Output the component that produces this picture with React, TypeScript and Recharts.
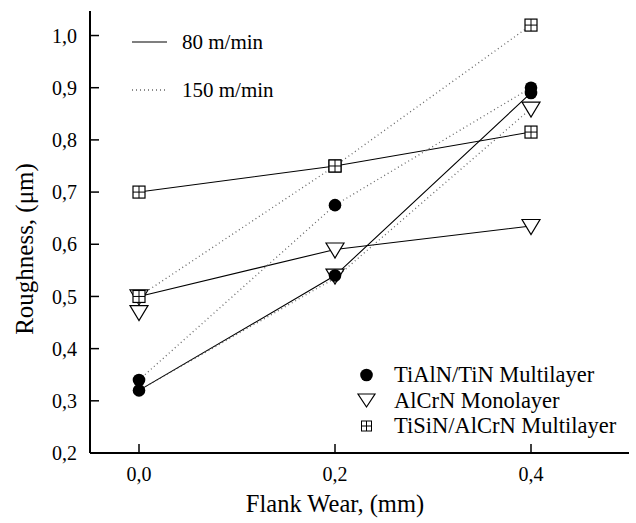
import React from 'react';
import { ComposedChart, Line, Scatter, XAxis, YAxis } from 'recharts';

// Flank wear (mm)
const flankWear = [0, 0.2, 0.4];
// Roughness (µm) markers
const tialn80 = [0.32, 0.54, 0.89];
const tialn150 = [0.34, 0.675, 0.9];
const alcrn80 = [0.5, 0.59, 0.635];
const alcrn150 = [0.47, 0.54, 0.86];
const tisin80 = [0.7, 0.75, 0.815];
const tisin150 = [0.5, 0.75, 1.02];
// dotted trend line drawn for AlCrN at 150 m/min
const alcrn150Line = [0.32, 0.535, 0.86];

const xTicks = [0, 0.2, 0.4];
const yTicks = [0.2, 0.3, 0.4, 0.5, 0.6, 0.7, 0.8, 0.9, 1.0];

const rows = flankWear.map((x, i) => ({
  x,
  tialn80: tialn80[i],
  tialn150: tialn150[i],
  alcrn80: alcrn80[i],
  alcrn150: alcrn150[i],
  tisin80: tisin80[i],
  tisin150: tisin150[i],
  alcrn150Line: alcrn150Line[i],
}));

const FONT = "'Liberation Serif', 'Times New Roman', serif";
const fmt = (v: number) => v.toFixed(1).replace('.', ',');

const DotShape = (p: any) => <circle cx={p.cx} cy={p.cy} r={6.3} fill="#000" />;
const TriShape = (p: any) => (
  <polygon
    points={`${p.cx - 9},${p.cy - 6.5} ${p.cx + 9},${p.cy - 6.5} ${p.cx},${p.cy + 8.5}`}
    fill="#fff"
    stroke="#000"
    strokeWidth={1.2}
  />
);
const BoxShape = (p: any) => (
  <g>
    <rect x={p.cx - 6} y={p.cy - 6} width={12} height={12} fill="#fff" stroke="#000" strokeWidth={1.2} />
    <line x1={p.cx} y1={p.cy - 6} x2={p.cx} y2={p.cy + 6} stroke="#000" strokeWidth={1} />
    <line x1={p.cx - 6} y1={p.cy} x2={p.cx + 6} y2={p.cy} stroke="#000" strokeWidth={1} />
  </g>
);

const solid = { stroke: '#000', strokeWidth: 1.1 };
const dotted = { stroke: '#666', strokeWidth: 1.3, strokeDasharray: '1 3' };

export default function App() {
  return (
    <div style={{ position: 'absolute', left: 0, top: 0, width: 636, height: 523, background: '#fff' }}>
      <ComposedChart width={636} height={523} data={rows} margin={{ top: 11, right: 7, bottom: 0, left: 0 }}>
        <XAxis
          dataKey="x"
          type="number"
          domain={[-0.05, 0.5]}
          ticks={xTicks}
          tickFormatter={fmt}
          height={70}
          tickSize={-9}
          tickMargin={23}
          axisLine={{ stroke: '#000', strokeWidth: 2 }}
          tickLine={{ stroke: '#000', strokeWidth: 1.5 }}
          tick={{ fontFamily: FONT, fontSize: 20, fill: '#000' }}
          allowDataOverflow
        />
        <XAxis
          xAxisId="top"
          orientation="top"
          type="number"
          domain={[-0.05, 0.5]}
          height={0}
          tick={false}
          tickLine={false}
          axisLine={{ stroke: '#000', strokeWidth: 2 }}
        />
        <YAxis
          type="number"
          domain={[0.2, 1.047]}
          ticks={yTicks}
          tickFormatter={fmt}
          width={90}
          tickSize={-9}
          tickMargin={22}
          axisLine={{ stroke: '#000', strokeWidth: 2 }}
          tickLine={{ stroke: '#000', strokeWidth: 1.5 }}
          tick={{ fontFamily: FONT, fontSize: 20, fill: '#000' }}
          allowDataOverflow
        />
        <YAxis
          yAxisId="right"
          orientation="right"
          type="number"
          domain={[0.2, 1.047]}
          width={0}
          tick={false}
          tickLine={false}
          axisLine={{ stroke: '#444', strokeWidth: 1.5 }}
        />
        <Line dataKey="tisin80" {...solid} dot={false} isAnimationActive={false} />
        <Line dataKey="alcrn80" {...solid} dot={false} isAnimationActive={false} />
        <Line dataKey="tialn80" {...solid} dot={false} isAnimationActive={false} />
        <Line dataKey="tisin150" {...dotted} dot={false} isAnimationActive={false} />
        <Line dataKey="tialn150" {...dotted} dot={false} isAnimationActive={false} />
        <Line dataKey="alcrn150Line" {...dotted} dot={false} isAnimationActive={false} />
        <Scatter dataKey="alcrn80" shape={TriShape} isAnimationActive={false} />
        <Scatter dataKey="alcrn150" shape={TriShape} isAnimationActive={false} />
        <Scatter dataKey="tisin80" shape={BoxShape} isAnimationActive={false} />
        <Scatter dataKey="tisin150" shape={BoxShape} isAnimationActive={false} />
        <Scatter dataKey="tialn80" shape={DotShape} isAnimationActive={false} />
        <Scatter dataKey="tialn150" shape={DotShape} isAnimationActive={false} />
      </ComposedChart>
      <svg
        width={636}
        height={523}
        style={{ position: 'absolute', left: 0, top: 0, pointerEvents: 'none' }}
        fontFamily={FONT}
      >
        <text x={335} y={512} fontSize={24.5} textAnchor="middle" fill="#000">Flank Wear, (mm)</text>
        <text x={33} y={249} fontSize={25} textAnchor="middle" fill="#000" transform="rotate(-90 33 249)">
          Roughness, (μm)
        </text>
        {/* speed legend */}
        <line x1={132} y1={42} x2={167} y2={42} stroke="#000" strokeWidth={1.1} />
        <text x={182} y={49} fontSize={21} fill="#000">80 m/min</text>
        <line x1={132} y1={90} x2={167} y2={90} stroke="#666" strokeWidth={1.3} strokeDasharray="1 3" />
        <text x={182} y={97} fontSize={21} fill="#000">150 m/min</text>
        {/* coating legend */}
        <circle cx={366.5} cy={375} r={6.3} fill="#000" />
        <text x={394} y={382} fontSize={22.5} fill="#000">TiAlN/TiN Multilayer</text>
        <polygon points="358,394 375,394 366.5,407" fill="#fff" stroke="#000" strokeWidth={1.2} />
        <text x={394} y={408} fontSize={22.5} fill="#000">AlCrN Monolayer</text>
        <rect x={361.5} y={421} width={10} height={10} fill="#fff" stroke="#000" strokeWidth={1} />
        <line x1={366.5} y1={421} x2={366.5} y2={431} stroke="#000" strokeWidth={1} />
        <line x1={361.5} y1={426} x2={371.5} y2={426} stroke="#000" strokeWidth={1} />
        <text x={394} y={433} fontSize={22.5} fill="#000">TiSiN/AlCrN Multilayer</text>
      </svg>
    </div>
  );
}
